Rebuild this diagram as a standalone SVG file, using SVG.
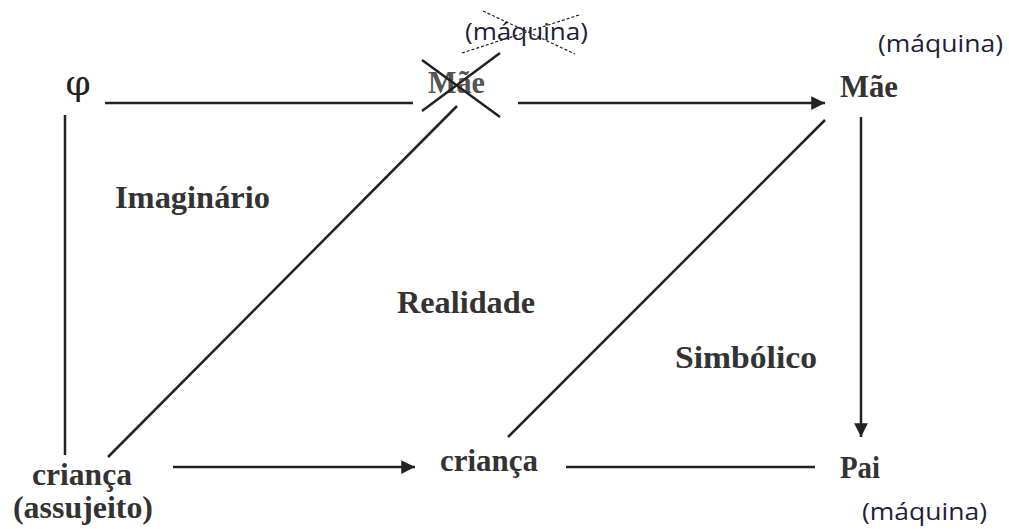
<svg xmlns="http://www.w3.org/2000/svg" width="1009" height="529" viewBox="0 0 1009 529">
<style>
.lbl{font-family:"Liberation Serif",serif;font-weight:bold;fill:#333;font-size:31px}
.mq{font-family:"Open Sans","Liberation Sans",sans-serif;fill:#1e1e3c;font-size:24px}
.ln{stroke:#222;stroke-width:2.5;fill:none}
.st{stroke:#222;stroke-width:2.5;fill:none}
.ds{stroke:#222;stroke-width:1.2;stroke-dasharray:3 2;fill:none}
</style>
<defs>
<marker id="ah" viewBox="0 0 10 10" refX="10" refY="5" markerWidth="6" markerHeight="5.5" orient="auto" markerUnits="strokeWidth">
<path d="M0,0 L10,5 L0,10 z" fill="#222"/>
</marker>
</defs>
<rect width="1009" height="529" fill="#fff"/>
<g id="connectors">
<line class="ln" x1="105" y1="103" x2="413" y2="103"/>
<line class="ln" x1="518" y1="103" x2="825" y2="103" marker-end="url(#ah)"/>
<line class="ln" x1="861" y1="117" x2="861" y2="437" marker-end="url(#ah)"/>
<line class="ln" x1="65" y1="115" x2="65" y2="455"/>
<line class="ln" x1="108" y1="457" x2="457" y2="106"/>
<line class="ln" x1="508" y1="437" x2="825" y2="120"/>
<line class="ln" x1="173" y1="467" x2="415" y2="467" marker-end="url(#ah)"/>
<line class="ln" x1="566" y1="467" x2="815" y2="467"/>
</g>
<g id="node-phi"><text x="78" y="95" text-anchor="middle" style="font-family:'DejaVu Serif',serif;font-size:36px;fill:#222">φ</text></g>
<g id="node-mae-struck">
<text class="lbl" x="428" y="93" textLength="57" lengthAdjust="spacingAndGlyphs" style="fill:#555">Mãe</text>
<line class="st" x1="422" y1="60" x2="500" y2="117"/>
<line class="st" x1="422" y1="111" x2="500" y2="53"/>
<text class="mq" x="465" y="40" textLength="123" lengthAdjust="spacingAndGlyphs">(máquina)</text>
<line class="ds" x1="483" y1="11" x2="575" y2="54"/>
<line class="ds" x1="462" y1="53" x2="579" y2="15"/>
</g>
<g id="node-mae">
<text class="lbl" x="840" y="97" textLength="58" lengthAdjust="spacingAndGlyphs">Mãe</text>
<text class="mq" x="878" y="52" textLength="125" lengthAdjust="spacingAndGlyphs">(máquina)</text>
</g>
<g id="node-pai">
<text class="lbl" x="840" y="478" textLength="40" lengthAdjust="spacingAndGlyphs">Pai</text>
<text class="mq" x="862" y="520" textLength="125" lengthAdjust="spacingAndGlyphs">(máquina)</text>
</g>
<g id="node-crianca-left">
<text class="lbl" x="32" y="485" textLength="100" lengthAdjust="spacingAndGlyphs">criança</text>
<text class="lbl" x="13" y="518" textLength="140" lengthAdjust="spacingAndGlyphs">(assujeito)</text>
</g>
<g id="node-crianca-mid">
<text class="lbl" x="440" y="471" textLength="98" lengthAdjust="spacingAndGlyphs">criança</text>
</g>
<g id="labels">
<text class="lbl" x="115" y="208" textLength="155" lengthAdjust="spacingAndGlyphs">Imaginário</text>
<text class="lbl" x="397" y="313" textLength="138" lengthAdjust="spacingAndGlyphs">Realidade</text>
<text class="lbl" x="675" y="368" textLength="142" lengthAdjust="spacingAndGlyphs">Simbólico</text>
</g>
</svg>
